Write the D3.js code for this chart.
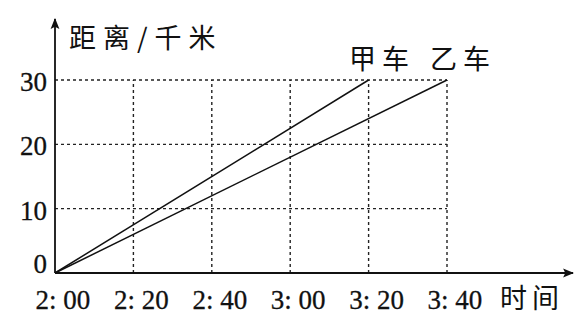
<!DOCTYPE html>
<html>
<head>
<meta charset="utf-8">
<script src="https://cdn.jsdelivr.net/npm/d3@7"></script>
<style>
  body { margin: 0; background: #fff; }
  .num { font-family: "Liberation Serif", "DejaVu Serif", serif; font-size: 27px; fill: #111; stroke: #111; stroke-width: 0.3; }
  .cjk { font-family: "Noto Sans CJK SC", sans-serif; font-size: 27px; fill: #111; }
</style>
</head>
<body>
<div id="graphic"></div>
<script>
// minutes after 2:00
var xTicks = [0, 20, 40, 60, 80, 100];
var xTickLabels = ["2: 00", "2: 20", "2: 40", "3: 00", "3: 20", "3: 40"];
var yTicks = [0, 10, 20, 30];
var carNames = ["甲车", "乙车"];
var carTimes = [[0, 80], [0, 100]];
var carDist = [[0, 30], [0, 30]];

var width = 576, height = 318;

var svg = d3.select("#graphic").append("svg")
    .attr("width", width)
    .attr("height", height);

var x = d3.scaleLinear().domain([0, 100]).range([55, 447]);
var y = d3.scaleLinear().domain([0, 30]).range([273, 80]);

// dashed grid
svg.selectAll(".hgrid")
    .data(yTicks.filter(d => d > 0))
    .enter().append("line")
    .attr("x1", x(0)).attr("x2", x(100))
    .attr("y1", d => y(d)).attr("y2", d => y(d))
    .attr("stroke", "#222").attr("stroke-width", 1.4)
    .attr("stroke-dasharray", "3,3");

svg.selectAll(".vgrid")
    .data(xTicks.filter(d => d > 0))
    .enter().append("line")
    .attr("x1", d => x(d)).attr("x2", d => x(d))
    .attr("y1", y(0)).attr("y2", y(30))
    .attr("stroke", "#222").attr("stroke-width", 1.4)
    .attr("stroke-dasharray", "3,3");

// axes with arrows
svg.append("defs").append("marker")
    .attr("id", "arrow")
    .attr("viewBox", "0 0 10 10")
    .attr("refX", 9).attr("refY", 5)
    .attr("markerWidth", 11).attr("markerHeight", 11)
    .attr("markerUnits", "userSpaceOnUse")
    .attr("orient", "auto")
    .append("path")
    .attr("d", "M0,1 L10,5 L0,9 L2,5 Z")
    .attr("fill", "#111");

svg.append("line")
    .attr("x1", x(0)).attr("y1", y(0))
    .attr("x2", 573).attr("y2", y(0))
    .attr("stroke", "#111").attr("stroke-width", 1.8)
    .attr("marker-end", "url(#arrow)");

svg.append("line")
    .attr("x1", x(0)).attr("y1", y(0))
    .attr("x2", x(0)).attr("y2", 19)
    .attr("stroke", "#111").attr("stroke-width", 1.8)
    .attr("marker-end", "url(#arrow)");

// car lines
var line = d3.line()
    .x(d => x(d[0]))
    .y(d => y(d[1]));

carNames.forEach(function (name, i) {
    var pts = carTimes[i].map((t, j) => [t, carDist[i][j]]);
    svg.append("path")
        .datum(pts)
        .attr("fill", "none")
        .attr("stroke", "#111")
        .attr("stroke-width", 1.5)
        .attr("d", line);
});

// tick labels
svg.selectAll(".xlab")
    .data(xTicks)
    .enter().append("text")
    .attr("class", "num")
    .attr("x", d => x(d) + 8)
    .attr("y", 309)
    .attr("text-anchor", "middle")
    .text((d, i) => xTickLabels[i]);

svg.selectAll(".ylab")
    .data(yTicks)
    .enter().append("text")
    .attr("class", "num")
    .attr("x", 47)
    .attr("y", d => d === 0 ? y(d) : y(d) + 11)
    .attr("text-anchor", "end")
    .text(d => d);

// titles
svg.append("text").attr("class", "cjk")
    .attr("x", 69).attr("y", 48)
    .attr("letter-spacing", 7)
    .text("距离/千米");

svg.append("text").attr("class", "cjk")
    .attr("x", 500).attr("y", 308)
    .attr("letter-spacing", 5)
    .text("时间");

svg.append("text").attr("class", "cjk")
    .attr("x", 349).attr("y", 69)
    .attr("letter-spacing", 6)
    .text(carNames[0]);

svg.append("text").attr("class", "cjk")
    .attr("x", 430).attr("y", 69)
    .attr("letter-spacing", 6)
    .text(carNames[1]);
</script>
</body>
</html>
